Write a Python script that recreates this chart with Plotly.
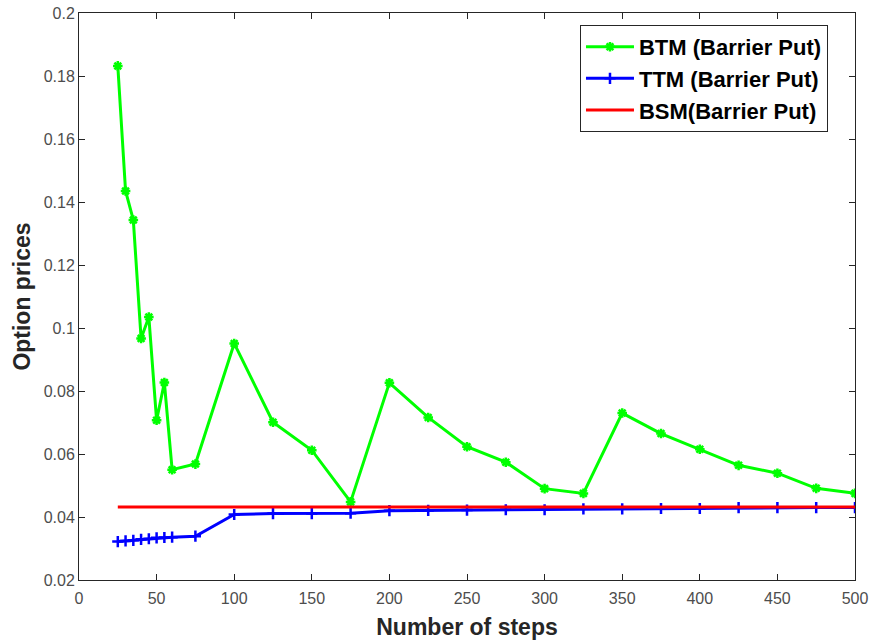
import plotly.graph_objects as go

steps = [25, 30, 35, 40, 45, 50, 55, 60, 75, 100, 125, 150, 175, 200, 225, 250,
         275, 300, 325, 350, 375, 400, 425, 450, 475, 500]
btm = [0.1832, 0.1435, 0.1343, 0.0967, 0.1035, 0.0707, 0.0827, 0.0550, 0.0568,
       0.0951, 0.0701, 0.0612, 0.0448, 0.0826, 0.0716, 0.0623, 0.0574, 0.0490,
       0.0475, 0.0730, 0.0665, 0.0615, 0.0564, 0.0539, 0.0491, 0.0475]
ttm = [0.0322, 0.0324, 0.0326, 0.0329, 0.0331, 0.0334, 0.0335, 0.0336, 0.0339,
       0.0408, 0.0411, 0.0411, 0.0412, 0.0420, 0.0421, 0.0422, 0.0423, 0.0423,
       0.0426, 0.0426, 0.0427, 0.0427, 0.0430, 0.0430, 0.0430, 0.0430]
bsm_x = [25, 500]
bsm = [0.0432, 0.0432]

x_ticks = [0, 50, 100, 150, 200, 250, 300, 350, 400, 450, 500]
y_ticks = [0.02, 0.04, 0.06, 0.08, 0.1, 0.12, 0.14, 0.16, 0.18, 0.2]
y_tick_labels = ["0.02", "0.04", "0.06", "0.08", "0.1", "0.12", "0.14", "0.16", "0.18", "0.2"]

fig = go.Figure()
fig.add_trace(go.Scatter(
    x=steps, y=btm, mode="lines+markers", name="<b>BTM (Barrier Put)</b>",
    line=dict(color="#00FF00", width=3),
    marker=dict(symbol="asterisk-open", size=8, color="#00FF00",
                line=dict(color="#00FF00", width=2.5))))
fig.add_trace(go.Scatter(
    x=steps, y=ttm, mode="lines+markers", name="<b>TTM (Barrier Put)</b>",
    line=dict(color="#0000FF", width=3),
    marker=dict(symbol="cross-thin-open", size=8, color="#0000FF",
                line=dict(color="#0000FF", width=2.5))))
fig.add_trace(go.Scatter(
    x=bsm_x, y=bsm, mode="lines", name="<b>BSM(Barrier Put)</b>",
    line=dict(color="#FF0000", width=3)))

axis_common = dict(
    showline=True, linecolor="#262626", linewidth=1, mirror="ticks",
    ticks="inside", ticklen=6, tickcolor="#262626", showgrid=False,
    zeroline=False, automargin=False,
    tickfont=dict(family="Liberation Sans, Arial", size=16, color="#4d4d4d"),
)

fig.update_layout(
    width=871, height=644,
    margin=dict(l=79, r=16, t=13, b=64),
    paper_bgcolor="white", plot_bgcolor="white",
    font=dict(family="Liberation Sans, Arial", color="#262626"),
    xaxis=dict(range=[0, 500], tickvals=x_ticks, ticklabelstandoff=4,
               title=dict(text="<b>Number of steps</b>", font=dict(size=23, color="#262626"), standoff=12),
               **axis_common),
    yaxis=dict(range=[0.02, 0.2], tickvals=y_ticks, ticktext=y_tick_labels,
               title=dict(text="<b>Option prices</b>", font=dict(size=23, color="#262626"), standoff=6),
               **axis_common),
    legend=dict(x=0.6456, y=0.979, xanchor="left", yanchor="top",
                bordercolor="#262626", borderwidth=1, bgcolor="white",
                font=dict(family="Liberation Sans, Arial", size=22, color="#000000"),
                itemwidth=48, tracegroupgap=0),
    showlegend=True,
)

fig.write_html(
    "out.html",
    config={"displayModeBar": False},
    post_script="document.body.style.margin='0';document.body.style.overflow='hidden';",
)
